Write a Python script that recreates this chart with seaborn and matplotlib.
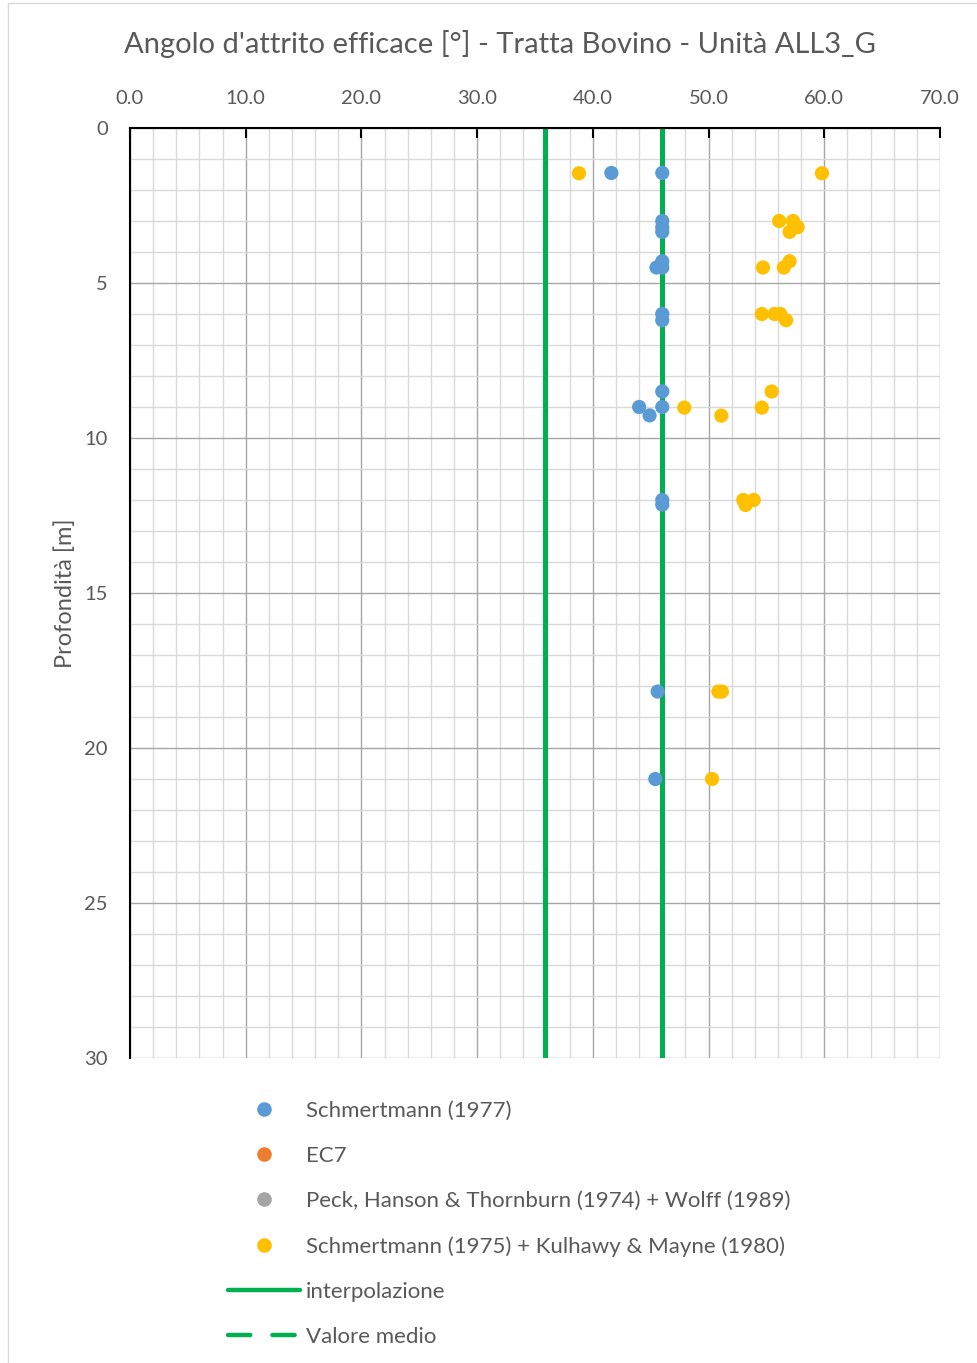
import numpy as np
import pandas as pd
import matplotlib.pyplot as plt
from matplotlib.lines import Line2D
from matplotlib.patches import Rectangle
import seaborn as sns

# Schmertmann (1977): angolo [deg], profondita [m]
schm77_phi = [41.6, 46.0, 46.0, 46.0, 46.0, 46.0, 45.5, 46.0, 46.0, 46.0,
              46.0, 44.0, 46.0, 44.9, 46.0, 46.0, 45.6, 45.4]
schm77_z = [1.45, 1.45, 3.0, 3.2, 3.35, 4.3, 4.5, 4.5, 6.0, 6.2,
            8.5, 9.0, 9.0, 9.27, 12.0, 12.15, 18.18, 21.0]

# EC7 / Peck: no points in this unit
ec7_phi, ec7_z = [], []
peck_phi, peck_z = [], []

# Schmertmann (1975) + Kulhawy & Mayne (1980)
schm75_phi = [38.8, 59.8, 56.1, 57.3, 57.7, 57.0, 54.7, 56.5, 57.0,
              54.6, 55.7, 56.2, 56.7, 55.45, 47.9, 54.6, 51.1,
              53.0, 53.9, 53.2, 50.85, 51.15, 50.3]
schm75_z = [1.46, 1.46, 3.0, 3.0, 3.2, 3.35, 4.5, 4.5, 4.3,
            6.0, 6.0, 6.0, 6.2, 8.5, 9.02, 9.02, 9.28,
            12.0, 12.0, 12.16, 18.18, 18.18, 21.0]

# interpolazione (linee verticali)
interp_phi = [35.9, 46.0]
depth_range = [0, 30]

blue, orange, grey, yellow, green = "#5B9BD5", "#ED7D31", "#A5A5A5", "#FFC000", "#00B050"
txt = "#595959"

sns.set_style("white")
plt.rcParams["font.family"] = ["Lato", "DejaVu Sans"]

fig = plt.figure(figsize=(9.78, 13.63), dpi=100)
ax = fig.add_axes([130 / 978, 1 - 1058 / 1363, 810 / 978, 930 / 1363])

# griglia
ax.set_xlim(0, 70)
ax.set_ylim(30, 0)
ax.set_xticks(np.arange(0, 71, 10))
ax.set_xticks(np.arange(0, 71, 2), minor=True)
ax.set_yticks(np.arange(0, 31, 5))
ax.set_yticks(np.arange(0, 31, 1), minor=True)
ax.grid(which="minor", color="#D9D9D9", lw=1.0, zorder=0)
ax.grid(which="major", color="#A6A6A6", lw=1.0, zorder=0)
ax.set_axisbelow(True)

for phi in interp_phi:
    ax.plot([phi, phi], depth_range, color=green, lw=3.6, zorder=2)

sns.scatterplot(x=schm77_phi, y=schm77_z, color=blue, s=105, edgecolor="none", ax=ax, zorder=3)
sns.scatterplot(x=schm75_phi, y=schm75_z, color=yellow, s=105, edgecolor="none", ax=ax, zorder=3)

ax.xaxis.tick_top()
ax.xaxis.set_label_position("top")
ax.set_xticklabels([f"{v:.1f}" for v in np.arange(0, 71, 10)])
ax.tick_params(axis="x", which="major", direction="in", length=7, width=1.5,
               color="black", pad=15, labelsize=14.5, labelcolor=txt, top=True, bottom=False)
ax.tick_params(axis="y", which="major", direction="in", length=0, pad=16,
               labelsize=14.5, labelcolor=txt)
ax.tick_params(which="minor", length=0)
for s in ["bottom", "right"]:
    ax.spines[s].set_visible(False)
for s in ["top", "left"]:
    ax.spines[s].set_color("black")
    ax.spines[s].set_linewidth(1.5)

ax.set_ylabel("Profondità [m]", fontsize=17, color=txt, labelpad=6)

fig.text(500 / 978, 1 - 44 / 1363, "Angolo d'attrito efficace [°] - Tratta Bovino - Unità ALL3_G",
         ha="center", va="center", fontsize=21, color=txt)

# legenda
handles = [
    Line2D([], [], ls="none", marker="o", ms=10.5, mfc=blue, mec="none"),
    Line2D([], [], ls="none", marker="o", ms=10.5, mfc=orange, mec="none"),
    Line2D([], [], ls="none", marker="o", ms=10.5, mfc=grey, mec="none"),
    Line2D([], [], ls="none", marker="o", ms=10.5, mfc=yellow, mec="none"),
    Line2D([], [], color=green, lw=3.2, solid_capstyle="round"),
    Line2D([], [], color=green, lw=3.2, ls=(0, (5, 5)), dash_capstyle="round"),
]
labels = ["Schmertmann (1977)", "EC7", "Peck, Hanson & Thornburn (1974) + Wolff (1989)",
          "Schmertmann (1975) + Kulhawy & Mayne (1980)", "interpolazione", "Valore medio"]
leg = fig.legend(handles, labels, loc="upper left", bbox_to_anchor=(228 / 978, 1 - 1101 / 1363),
                 frameon=False, fontsize=16, handlelength=3.25, handletextpad=0.27,
                 labelspacing=1.13, borderpad=0, borderaxespad=0)
for t in leg.get_texts():
    t.set_color(txt)

# bordo del grafico
fig.patches.append(Rectangle((8 / 978, -0.01), 1.0, 1 - 3 / 1363 + 0.01,
                             transform=fig.transFigure, fill=False, ec="#D9D9D9", lw=1.0))

fig.savefig("out.png", dpi=100)
